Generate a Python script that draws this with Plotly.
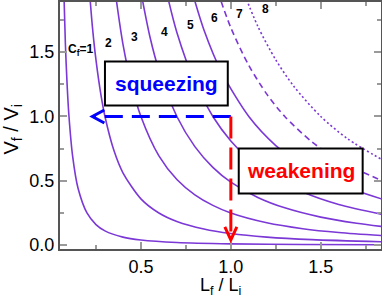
import plotly.graph_objects as go

# ---- data ----
curve_labels = [1, 2, 3, 4, 5, 6, 7, 8]
curve_styles = ["solid"] * 6 + ["6px,4px", "2px,2.5px"]

c1_L = [0.07, 0.08, 0.09, 0.10, 0.12, 0.15, 0.20, 0.25, 0.30, 0.40, 0.50, 0.70, 1.00, 1.40, 1.85]
c1_V = [2.041, 1.563, 1.235, 1.000, 0.694, 0.444, 0.250, 0.160, 0.111, 0.0625, 0.040, 0.0204, 0.010, 0.0051, 0.0029]
c2_L = [0.21, 0.23, 0.25, 0.28, 0.30, 0.35, 0.40, 0.50, 0.60, 0.70, 0.85, 1.00, 1.20, 1.45, 1.85]
c2_V = [2.041, 1.701, 1.440, 1.148, 1.000, 0.735, 0.5625, 0.360, 0.250, 0.184, 0.125, 0.090, 0.0625, 0.0428, 0.0263]
c3_L = [0.35, 0.40, 0.45, 0.50, 0.60, 0.70, 0.80, 0.90, 1.00, 1.20, 1.40, 1.60, 1.85]
c3_V = [2.041, 1.563, 1.235, 1.000, 0.694, 0.510, 0.391, 0.309, 0.250, 0.174, 0.128, 0.098, 0.073]
c4_L = [0.49, 0.55, 0.60, 0.70, 0.80, 0.90, 1.00, 1.15, 1.30, 1.50, 1.70, 1.85]
c4_V = [2.041, 1.620, 1.361, 1.000, 0.766, 0.605, 0.490, 0.371, 0.290, 0.218, 0.170, 0.143]
c5_L = [0.63, 0.70, 0.80, 0.90, 1.00, 1.10, 1.25, 1.40, 1.60, 1.85]
c5_V = [2.041, 1.653, 1.266, 1.000, 0.810, 0.669, 0.518, 0.413, 0.316, 0.237]
c6_L = [0.77, 0.85, 0.95, 1.10, 1.25, 1.40, 1.60, 1.85]
c6_V = [2.041, 1.675, 1.341, 1.000, 0.774, 0.617, 0.473, 0.354]
c7_L = [0.91, 1.00, 1.10, 1.20, 1.30, 1.45, 1.60, 1.85]
c7_V = [2.041, 1.690, 1.397, 1.174, 1.000, 0.804, 0.660, 0.494]
c8_L = [1.05, 1.15, 1.25, 1.35, 1.50, 1.65, 1.85]
c8_V = [2.041, 1.701, 1.440, 1.235, 1.000, 0.826, 0.657]

curves_L = [c1_L, c2_L, c3_L, c4_L, c5_L, c6_L, c7_L, c8_L]
curves_V = [c1_V, c2_V, c3_V, c4_V, c5_V, c6_V, c7_V, c8_V]

label_text = ["C<sub>f</sub>=1", "2", "3", "4", "5", "6", "7", "8"]
label_x = [0.165, 0.317, 0.467, 0.630, 0.775, 0.910, 1.050, 1.190]
label_y = [1.520, 1.573, 1.620, 1.660, 1.714, 1.762, 1.793, 1.832]

start_point = [1.0, 1.0]
squeeze_tip = 0.23
weaken_tip = 0.04

box_names = ["squeezing", "weakening"]
box_colors = ["#0000ff", "#ff0000"]
box_x0 = [0.30, 1.044]
box_x1 = [0.983, 1.733]
box_y0 = [1.086, 0.402]
box_y1 = [1.428, 0.752]

x_range = [0.05, 1.835]
y_range = [-0.03, 1.89]
x_title = "L<sub>f</sub> / L<sub>i</sub>"
y_title = "V<sub>f</sub> / V<sub>i</sub>"

purple = "#7b38d6"
axis_col = "#555555"
tick_col = "#9a9a9a"
FONT = "Liberation Sans, Arial, sans-serif"

fig = go.Figure()
for L, V, st in zip(curves_L, curves_V, curve_styles):
    fig.add_trace(go.Scatter(x=L, y=V, mode="lines",
                             line=dict(color=purple, width=1.6, dash=st, shape="spline", smoothing=0.8),
                             showlegend=False, hoverinfo="skip"))

shapes = []
for x0, x1, y0, y1 in zip(box_x0, box_x1, box_y0, box_y1):
    shapes.append(dict(type="rect", xref="x", yref="y", x0=x0, x1=x1, y0=y0, y1=y1,
                       fillcolor="white", line=dict(color="black", width=2), layer="above"))
shapes.append(dict(type="line", xref="x", yref="y", x0=start_point[0], y0=start_point[1],
                   x1=squeeze_tip, y1=start_point[1],
                   line=dict(color=box_colors[0], width=3, dash="18px,9px"), layer="above"))
shapes.append(dict(type="line", xref="x", yref="y", x0=start_point[0], y0=start_point[1],
                   x1=start_point[0], y1=weaken_tip,
                   line=dict(color=box_colors[1], width=3, dash="22px,9px"), layer="above"))
shapes.append(dict(type="path", xref="x", yref="y", xsizemode="pixel", ysizemode="pixel",
                   xanchor=squeeze_tip, yanchor=start_point[1],
                   path="M 12,6.5 L 0,0 L 12,-6.5",
                   line=dict(color=box_colors[0], width=3), layer="above"))
shapes.append(dict(type="path", xref="x", yref="y", xsizemode="pixel", ysizemode="pixel",
                   xanchor=start_point[0], yanchor=weaken_tip,
                   path="M -6,13 L 0,0 L 6,13",
                   line=dict(color=box_colors[1], width=3), layer="above"))

annotations = []
for t, x, y in zip(label_text, label_x, label_y):
    annotations.append(dict(x=x, y=y, xref="x", yref="y", text="<b>" + t + "</b>", showarrow=False,
                            font=dict(family=FONT, size=12, color="black")))
for name, col, x0, x1, y0, y1 in zip(box_names, box_colors, box_x0, box_x1, box_y0, box_y1):
    annotations.append(dict(x=(x0 + x1) / 2, y=(y0 + y1) / 2, xref="x", yref="y",
                            text="<b>" + name + "</b>", showarrow=False,
                            font=dict(family=FONT, size=21, color=col)))
annotations.append(dict(x=0.5, y=0, xref="paper", yref="paper", text=x_title, showarrow=False,
                        xanchor="center", yanchor="middle", yshift=-37,
                        font=dict(family=FONT, size=18, color="black")))
annotations.append(dict(x=0, y=0.5, xref="paper", yref="paper", text=y_title, showarrow=False,
                        xanchor="center", yanchor="middle", xshift=-48, yshift=-4, textangle=-90,
                        font=dict(family=FONT, size=20, color="black")))

axis_common = dict(showgrid=False, zeroline=False, showline=True, linecolor=axis_col, linewidth=2,
                   mirror="ticks", ticks="inside", ticklen=7, tickwidth=2, tickcolor=tick_col,
                   tick0=0, dtick=0.5, tickformat=".1f", automargin=False,
                   tickfont=dict(family=FONT, size=18, color="black"),
                   minor=dict(dtick=0.25, tick0=0, ticks="inside", ticklen=4, tickwidth=1.5, tickcolor=tick_col))

fig.update_layout(
    width=382, height=297,
    margin=dict(l=60, r=1, t=2, b=48),
    paper_bgcolor="white", plot_bgcolor="white",
    xaxis=dict(range=x_range, **axis_common),
    yaxis=dict(range=y_range, **axis_common),
    shapes=shapes, annotations=annotations,
)

fig.write_html("out.html", config={"displayModeBar": False},
               post_script="document.body.style.margin='0';document.body.style.overflow='hidden';")
